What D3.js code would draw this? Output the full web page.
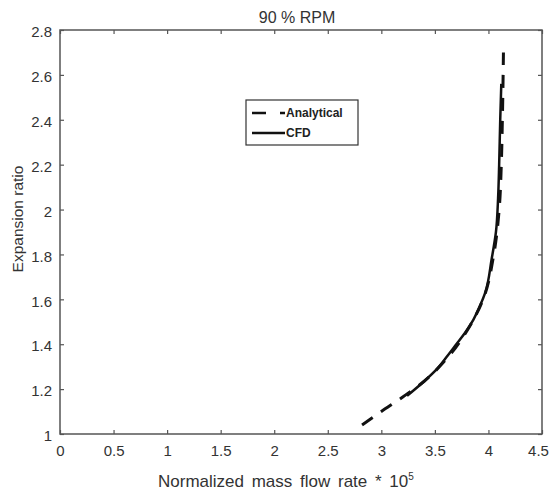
<!DOCTYPE html>
<html>
<head>
<meta charset="utf-8">
<script src="https://cdn.jsdelivr.net/npm/d3@7"></script>
<style>
body { margin: 0; background: #fff; }
text { font-family: "Liberation Sans Narrow", "Liberation Sans", Arial, sans-serif; fill: #333; }
.legend { font-family: "Liberation Sans", Arial, sans-serif; font-weight: bold; font-size: 12px; fill: #222; }
</style>
</head>
<body>
<svg id="chart" width="549" height="495"></svg>
<script>
// Analytical curve (dashed)
var analyticalX = [2.82, 3.0, 3.2, 3.4, 3.6, 3.8, 3.95, 4.05, 4.1, 4.12, 4.13, 4.14];
var analyticalY = [1.04, 1.10, 1.165, 1.235, 1.33, 1.46, 1.60, 1.80, 2.0, 2.2, 2.4, 2.7];
// CFD curve (solid)
var cfdX = [3.24, 3.4, 3.52, 3.62, 3.70, 3.78, 3.86, 3.92, 3.97, 4.03, 4.07, 4.09, 4.10, 4.11, 4.12];
var cfdY = [1.17, 1.235, 1.29, 1.35, 1.40, 1.45, 1.51, 1.57, 1.63, 1.78, 1.9, 2.05, 2.2, 2.4, 2.56];

var xTicks = [0, 0.5, 1, 1.5, 2, 2.5, 3, 3.5, 4, 4.5];
var yTicks = [1, 1.2, 1.4, 1.6, 1.8, 2, 2.2, 2.4, 2.6, 2.8];

var margin = { top: 30, right: 7, bottom: 61, left: 60 };
var width = 549 - margin.left - margin.right;
var height = 495 - margin.top - margin.bottom;

var svg = d3.select('#chart')
    .append('g')
    .attr('transform', `translate(${margin.left}, ${margin.top})`);

var x = d3.scaleLinear().domain([0, 4.5]).range([0, width]);
var y = d3.scaleLinear().domain([1, 2.8]).range([height, 0]);

var axisColor = '#555';

// box
svg.append('rect')
    .attr('width', width)
    .attr('height', height)
    .attr('fill', 'none')
    .attr('stroke', axisColor)
    .attr('stroke-width', 1.5);

// axes, ticks pointing in
var styleAxis = function (g) {
    g.select('.domain').remove();
    g.selectAll('line').attr('stroke', axisColor).attr('stroke-width', 1.2);
    g.selectAll('text').attr('font-size', 15).attr('fill', '#333')
        .style('font-family', '"Liberation Sans Narrow", "Liberation Sans", Arial, sans-serif');
};

svg.append('g')
    .attr('transform', `translate(0, ${height})`)
    .call(d3.axisBottom(x).tickValues(xTicks).tickSize(-4).tickPadding(11).tickFormat(d3.format('')))
    .call(styleAxis)
    .selectAll('text')
    .filter(d => d === 4.5)
    .attr('dx', -4);
svg.append('g')
    .call(d3.axisTop(x).tickValues(xTicks).tickSize(-4).tickFormat(''))
    .call(styleAxis);
svg.append('g')
    .call(d3.axisLeft(y).tickValues(yTicks).tickSize(-4).tickPadding(8).tickFormat(d3.format('')))
    .call(styleAxis)
    .selectAll('text')
    .attr('dy', '0.45em');
svg.append('g')
    .attr('transform', `translate(${width}, 0)`)
    .call(d3.axisRight(y).tickValues(yTicks).tickSize(-4).tickFormat(''))
    .call(styleAxis);

var line = d3.line()
    .x(d => x(d[0]))
    .y(d => y(d[1]))
    .curve(d3.curveMonotoneY);

var cfd = cfdX.map((v, i) => [v, cfdY[i]]);
var analytical = analyticalX.map((v, i) => [v, analyticalY[i]]);

svg.append('path')
    .attr('d', line(cfd))
    .attr('fill', 'none')
    .attr('stroke', '#111')
    .attr('stroke-width', 2.5);

svg.append('path')
    .attr('d', line(analytical))
    .attr('fill', 'none')
    .attr('stroke', '#111')
    .attr('stroke-width', 3)
    .attr('stroke-dasharray', '13,10');

// title and labels
svg.append('text')
    .attr('x', 237)
    .attr('y', -7)
    .attr('text-anchor', 'middle')
    .style('font-family', '"Liberation Sans Narrow", "Liberation Sans", Arial, sans-serif')
    .attr('font-size', 16)
    .text('90 % RPM');

var xl = svg.append('text')
    .attr('x', 98)
    .attr('y', height + 53)
    .attr('text-anchor', 'start')
    .style('font-family', '"Liberation Sans", Arial, sans-serif')
    .style('word-spacing', '3px')
    .attr('font-size', 17);
xl.append('tspan').text('Normalized mass flow rate * 10');
xl.append('tspan').attr('dy', -7).attr('font-size', 10).text('5');

svg.append('text')
    .attr('transform', 'rotate(-90)')
    .attr('x', -189)
    .attr('y', -37)
    .attr('text-anchor', 'middle')
    .style('font-family', '"Liberation Sans", Arial, sans-serif')
    .attr('font-size', 15.5)
    .text('Expansion ratio');

// legend
var lg = svg.append('g').attr('transform', 'translate(186, 70)');
lg.append('rect')
    .attr('width', 112)
    .attr('height', 45)
    .attr('fill', '#fff')
    .attr('stroke', '#333')
    .attr('stroke-width', 1.2);
var entries = [['Analytical', '14,14'], ['CFD', null]];
entries.forEach(function (e, i) {
    var yy = 13 + i * 20;
    lg.append('line')
        .attr('x1', 6).attr('x2', 39)
        .attr('y1', yy).attr('y2', yy)
        .attr('stroke', '#111')
        .attr('stroke-width', 2.5)
        .attr('stroke-dasharray', e[1]);
    lg.append('text')
        .classed('legend', true)
        .attr('x', 40)
        .attr('y', yy + 4)
        .text(e[0]);
});
</script>
</body>
</html>
